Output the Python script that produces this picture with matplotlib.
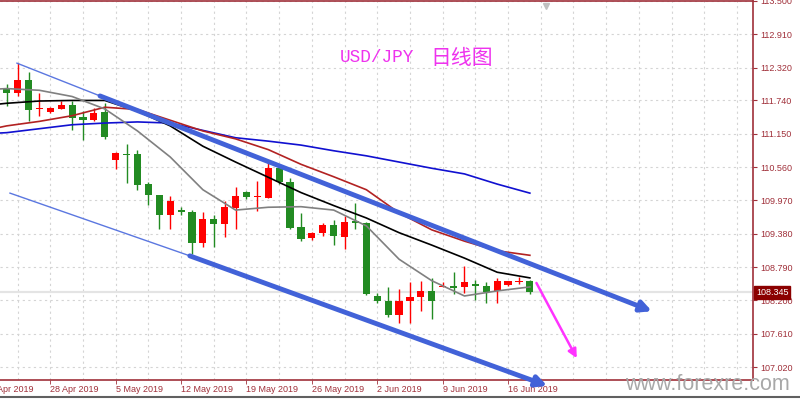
import numpy as np
import matplotlib
matplotlib.use('Agg')
import matplotlib.pyplot as plt
import matplotlib.transforms as mtransforms
from matplotlib.lines import Line2D

# daily candles (index 0 = 23 Apr 2019, Sunday candles included)
opens = [111.94, 111.87, 112.11, 111.58, 111.54, 111.59, 111.66, 111.44, 111.39, 111.53,
         110.69, 110.80, 110.79, 110.26, 110.06, 109.71, 109.81, 109.76, 109.21, 109.65,
         109.55, 109.84, 110.12, 110.03, 110.02, 110.54, 110.30, 109.50, 109.31, 109.40,
         109.53, 109.33, 109.61, 109.58, 108.28, 108.19, 107.94, 108.19, 108.26, 108.37,
         108.44, 108.46, 108.43, 108.50, 108.46, 108.37, 108.47, 108.53, 108.54]
highs = [112.03, 112.41, 112.24, 111.87, 111.62, 111.73, 111.73, 111.56, 111.60, 111.69,
         110.82, 110.97, 110.87, 110.29, 110.07, 110.05, 109.85, 109.81, 109.76, 109.71,
         109.96, 110.20, 110.13, 110.32, 110.65, 110.56, 110.36, 109.74, 109.41, 109.58,
         109.63, 109.70, 109.93, 109.59, 108.33, 108.44, 108.40, 108.53, 108.54, 108.59,
         108.52, 108.70, 108.81, 108.56, 108.53, 108.59, 108.55, 108.62, 108.56]
lows = [111.64, 111.82, 111.38, 111.47, 111.52, 111.58, 111.22, 111.04, 111.38, 111.05,
        110.52, 110.28, 110.16, 109.89, 109.46, 109.46, 109.71, 109.02, 109.14, 109.14,
        109.33, 109.47, 109.99, 109.78, 110.02, 110.27, 109.46, 109.25, 109.27, 109.34,
        109.19, 109.12, 109.46, 108.29, 108.16, 107.90, 107.81, 107.81, 108.01, 107.87,
        108.44, 108.31, 108.34, 108.21, 108.16, 108.16, 108.46, 108.50, 108.31]
closes = [111.87, 112.11, 111.57, 111.60, 111.60, 111.66, 111.43, 111.39, 111.52, 111.10,
          110.81, 110.77, 110.24, 110.06, 109.71, 109.96, 109.77, 109.21, 109.65, 109.55,
          109.86, 110.05, 110.03, 110.05, 110.54, 110.29, 109.48, 109.28, 109.40, 109.53,
          109.34, 109.59, 109.58, 108.31, 108.19, 107.94, 108.19, 108.26, 108.37, 108.19,
          108.46, 108.42, 108.52, 108.45, 108.35, 108.54, 108.54, 108.54, 108.345]

# moving averages, every 3rd candle
ma_idx = [-1, 0, 3, 6, 9, 12, 15, 18, 21, 24, 27, 30, 33, 36, 39, 42, 45, 48]
ma_gray = [111.94, 111.95, 111.92, 111.81, 111.59, 111.20, 110.74, 110.16, 109.80,
           109.85, 109.86, 109.80, 109.52, 108.93, 108.55, 108.28, 108.37, 108.44]
ma_black = [111.67, 111.69, 111.73, 111.74, 111.74, 111.55, 111.29, 110.93, 110.65,
            110.38, 110.11, 109.88, 109.66, 109.40, 109.18, 108.95, 108.70, 108.60]
ma_red = [111.25, 111.29, 111.37, 111.47, 111.62, 111.58, 111.39, 111.20, 111.06,
          110.87, 110.61, 110.39, 110.16, 109.75, 109.45, 109.25, 109.08, 109.00]
ma_blue = [111.16, 111.17, 111.24, 111.31, 111.34, 111.36, 111.34, 111.21, 111.08,
           111.02, 110.95, 110.85, 110.76, 110.65, 110.54, 110.44, 110.26, 110.10]

# drawn objects (candle index, price)
upper_thin = [(0.94, 112.40), (24.2, 110.63)]
upper_arrow = [(8.56, 111.82), (59.2, 108.01)]
lower_thin = [(0.3, 110.10), (16.8, 108.99)]
lower_arrow = [(16.8, 108.99), (49.6, 106.69)]
pink_arrow = [(48.6, 108.51), (52.3, 107.18)]

date_idx = [-2, 4, 10, 16, 22, 28, 34, 40, 46]
date_labels = ['21 Apr 2019', '28 Apr 2019', '5 May 2019', '12 May 2019', '19 May 2019',
               '26 May 2019', '2 Jun 2019', '9 Jun 2019', '16 Jun 2019']
price_ticks = [107.020, 107.610, 108.200, 108.790, 109.380, 109.970,
               110.560, 111.150, 111.740, 112.320, 112.910, 113.500]
last_price = 108.345

axis_red = '#a0303a'
up_col = '#ff0000'
down_col = '#228b22'

fig = plt.figure(figsize=(8, 4), dpi=100)
ax = fig.add_axes([0, 20 / 400, 753 / 800, 379 / 400])
ax.set_xlim(-0.615, 68.47)
ax.set_ylim(106.793, 113.5)

# grid
for g in range(1, 69, 3):
    ax.axvline(g, color='#d4d4d4', lw=0.8, ls=(0, (2, 3)), zorder=0)
for p in price_ticks:
    ax.axhline(p, color='#d4d4d4', lw=0.8, ls=(0, (2, 3)), zorder=0)

ax.axhline(last_price, color='#e4e4e4', lw=1.6, zorder=0.5)

# candles
x = np.arange(len(opens))
o = np.array(opens)
c = np.array(closes)
cols = [up_col if cc >= oo else down_col for oo, cc in zip(o, c)]
ax.vlines(x, lows, highs, colors=cols, lw=1, zorder=2)
body = np.maximum(np.abs(c - o), 0.018)
ax.bar(x, body, bottom=np.minimum(o, c), width=0.66, color=cols, zorder=3)

# moving averages
ax.plot(ma_idx, ma_blue, color='#1010d0', lw=1.2, zorder=4)
ax.plot(ma_idx, ma_red, color='#b22222', lw=1.2, zorder=4)
ax.plot(ma_idx, ma_black, color='black', lw=1.2, zorder=4)
ax.plot(ma_idx, ma_gray, color='#808080', lw=1.2, zorder=4)

# trend lines
for seg in (upper_thin, lower_thin):
    ax.plot([seg[0][0], seg[1][0]], [seg[0][1], seg[1][1]], color='#5b77e0', lw=1, zorder=5)
for seg in (upper_arrow, lower_arrow):
    ax.annotate('', xy=seg[1], xytext=seg[0], annotation_clip=False,
                arrowprops=dict(arrowstyle='-|>', color='#4262d8', lw=3.5,
                                mutation_scale=16, shrinkA=0, shrinkB=0), zorder=6)
ax.annotate('', xy=pink_arrow[1], xytext=pink_arrow[0], annotation_clip=False,
            arrowprops=dict(arrowstyle='-|>', color='#ff33ff', lw=1.8,
                            mutation_scale=13, shrinkA=0, shrinkB=0), zorder=6)

# axes styling
for s in ('left',):
    ax.spines[s].set_visible(False)
for s in ('right', 'bottom', 'top'):
    ax.spines[s].set_color(axis_red)
    ax.spines[s].set_linewidth(1.2)
ax.yaxis.tick_right()
ax.set_yticks(price_ticks)
ax.set_yticklabels(['%.3f' % p for p in price_ticks])
ax.tick_params(axis='y', colors=axis_red, length=3, width=0.8, labelsize=6.5, pad=2)
for lab in ax.get_yticklabels():
    lab.set_family('Liberation Sans')
ax.set_xticks([d for d in date_idx if d >= 0])
ax.set_xticklabels([])
ax.tick_params(axis='x', colors=axis_red, length=3, width=0.6)

trans = mtransforms.blended_transform_factory(ax.transData, ax.transAxes)
for d, lab in zip(date_idx, date_labels):
    ax.text(d, -0.012, lab, transform=trans, ha='left', va='top', fontsize=6.5,
            color=axis_red, family='Liberation Sans', clip_on=False)

# current price box
trans_y = mtransforms.blended_transform_factory(ax.transAxes, ax.transData)
ax.text(1.004, last_price, '%.3f' % last_price, transform=trans_y, ha='left', va='center',
        fontsize=6.5, color='white', family='Liberation Sans', zorder=10,
        bbox=dict(boxstyle='square,pad=0.2', fc='#8b0000', ec='#8b0000'))

# small marker on the top
ax.plot([49.5], [113.42], marker='v', color='#c0c0c0', ms=4, clip_on=False)

# title
fig.text(340 / 800, 1 - 58 / 400, 'USD/JPY', color='#ee33ee', fontsize=12.8,
         family='Liberation Mono', ha='left', va='center')
fig.text(430 / 800, 1 - 58 / 400, '日线图', color='#ee33ee', fontsize=15,
         family=['Noto Sans CJK SC', 'DejaVu Sans'], ha='left', va='center')

# watermark and bottom bar
fig.text(790 / 800, 5 / 400, 'www.forexre.com', color='#a8a8a8', fontsize=15.5,
         family='Liberation Sans', ha='right', va='bottom')
fig.add_artist(Line2D([0, 1], [3 / 400, 3 / 400], color='#606060', lw=1.5))

fig.savefig('out.png', dpi=100)
